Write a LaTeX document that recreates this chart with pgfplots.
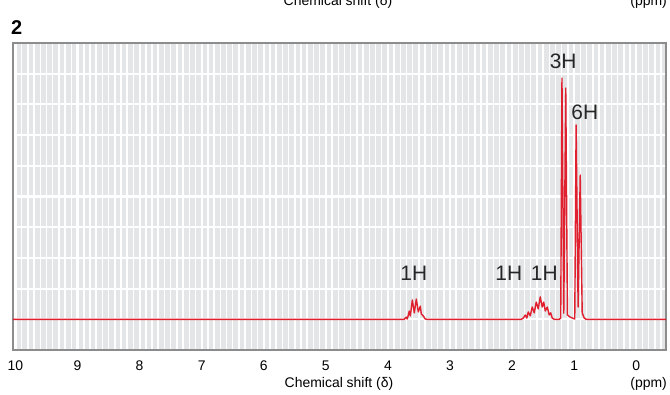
\documentclass[border=0pt]{standalone}
\usepackage{fontspec}
\setmainfont{Liberation Sans}
\usepackage{pgfplots}
\pgfplotsset{compat=1.18}
\definecolor{bggray}{HTML}{E4E5E7}
\definecolor{bordergray}{HTML}{8C8C8C}
\definecolor{nmrred}{HTML}{E0202E}
\begin{document}
\begin{tikzpicture}[x=1bp,y=1bp]
\useasboundingbox (0,0) rectangle (670,394);
% cut-off labels of the panel above
\node[font=\fontsize{14}{16}\selectfont, anchor=base, inner sep=0] at (338,388) {Chemical shift (δ)};
\node[font=\fontsize{14}{16}\selectfont, anchor=base east, inner sep=0] at (667,388) {(ppm)};
% panel number
\node[font=\bfseries\fontsize{20}{22}\selectfont, anchor=base west, inner sep=0] at (11,360) {2};
\begin{axis}[
  at={(13bp,44bp)}, anchor=south west,
  width=653bp, height=307bp, scale only axis,
  x dir=reverse, xmin=-0.48, xmax=10.04, ymin=0, ymax=10,
  axis background/.style={fill=bggray},
  axis line style={bordergray, line width=1.8bp},
  xtick={0,...,10}, minor xtick={-0.4,-0.3,...,10.0},
  ytick={1,...,9}, yticklabels={},
  major tick length=0pt, minor tick length=0pt,
  grid=both,
  major grid style={white, line width=2.1bp},
  minor grid style={white, line width=1.5bp},
  xticklabel style={font=\fontsize{14}{16}\selectfont, anchor=base, yshift=-20bp},
  /pgf/number format/assume math mode=true,
  clip=false,
]
\addplot[nmrred, line width=1.4bp, line join=round] coordinates {
(10.04,1.0) (3.74,1.0) (3.704,1.07) (3.688,1.01) (3.655,1.27) (3.639,1.11) (3.607,1.63) (3.575,1.21) (3.543,1.66) (3.510,1.24) (3.478,1.43) (3.462,1.17) (3.430,1.11) (3.398,1.01) (3.366,1.0)
(1.852,1.0) (1.820,1.04) (1.787,1.14) (1.763,1.04) (1.739,1.24) (1.707,1.11) (1.675,1.40) (1.643,1.21) (1.610,1.56) (1.578,1.34) (1.546,1.73) (1.514,1.40) (1.490,1.56) (1.465,1.27) (1.433,1.40) (1.401,1.14) (1.377,1.21) (1.353,1.04) (1.320,1.0)
(1.240,1.0) (1.216,1.04) (1.196,8.86) (1.167,1.20) (1.135,8.53) (1.108,1.14) (1.063,1.07) (1.014,1.03) (0.990,1.01) (0.968,7.33) (0.936,1.40) (0.902,5.70) (0.870,1.21) (0.837,1.04) (0.805,1.0) (-0.48,1.0)
};
\node[font=\fontsize{21}{24}\selectfont, text=black!85] at (axis cs:3.583,2.51) {1H};
\node[font=\fontsize{21}{24}\selectfont, text=black!85] at (axis cs:2.053,2.51) {1H};
\node[font=\fontsize{21}{24}\selectfont, text=black!85] at (axis cs:1.481,2.51) {1H};
\node[font=\fontsize{21}{24}\selectfont, text=black!85] at (axis cs:1.176,9.41) {3H};
\node[font=\fontsize{21}{24}\selectfont, text=black!85] at (axis cs:0.829,7.74) {6H};
\end{axis}
\node[font=\fontsize{14}{16}\selectfont, anchor=base, inner sep=0] at (339,7) {Chemical shift (δ)};
\node[font=\fontsize{14}{16}\selectfont, anchor=base east, inner sep=0] at (667,7) {(ppm)};
\end{tikzpicture}
\end{document}
